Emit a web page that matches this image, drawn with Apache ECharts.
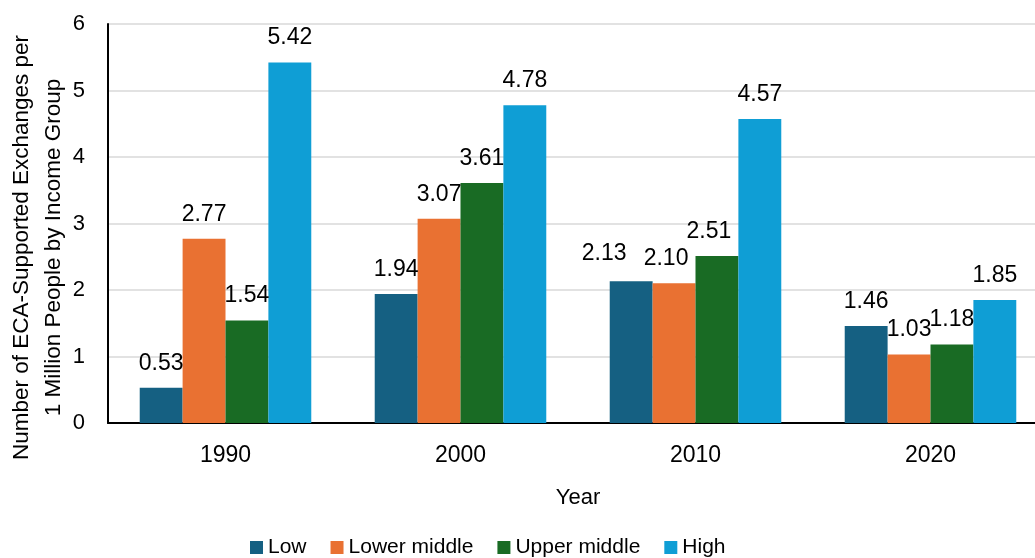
<!DOCTYPE html>
<html>
<head>
<meta charset="utf-8">
<script src="https://cdn.jsdelivr.net/npm/echarts@6/dist/echarts.min.js"></script>
<style>
  html, body { margin: 0; padding: 0; background: #fff; }
  #chart { width: 1035px; height: 558px; }
</style>
</head>
<body>
<div id="chart"></div>
<script>
const years = ['1990', '2000', '2010', '2020'];
const seriesNames = ['Low', 'Lower middle', 'Upper middle', 'High'];
const lowValues = [0.53, 1.94, 2.13, 1.46];
const lowerMiddleValues = [2.77, 3.07, 2.10, 1.03];
const upperMiddleValues = [1.54, 3.61, 2.51, 1.18];
const highValues = [5.42, 4.78, 4.57, 1.85];
const yTicks = [0, 1, 2, 3, 4, 5, 6];

const colors = ['#156082', '#E97132', '#196B24', '#0F9ED5'];
const FONT = '"Liberation Sans", Arial, sans-serif';

const valueSets = [lowValues, lowerMiddleValues, upperMiddleValues, highValues];

// Nudges for the crowded 2010 labels so they do not overlap: [series][category] -> [dx, dy]
const labelNudges = {
  '0-2': [-27, -3],
  '1-2': [-8, 0],
  '2-2': [-8, 0]
};

function buildData(seriesIdx) {
  return valueSets[seriesIdx].map((v, catIdx) => {
    const nudge = labelNudges[seriesIdx + '-' + catIdx];
    return nudge ? { value: v, label: { offset: nudge } } : v;
  });
}

const chart = echarts.init(document.getElementById('chart'), null, { renderer: 'canvas' });

chart.setOption({
  animation: false,
  color: colors,
  textStyle: { fontFamily: FONT },
  grid: { left: 108, right: -13, top: 24, bottom: 135, containLabel: false, outerBoundsMode: 'none' },
  legend: {
    data: seriesNames,
    left: 250,
    top: 537,
    padding: 0,
    itemWidth: 13,
    itemHeight: 13,
    itemGap: 24,
    icon: 'rect',
    textStyle: { fontFamily: FONT, fontSize: 21, color: '#000' }
  },
  xAxis: {
    type: 'category',
    data: years,
    name: 'Year',
    nameLocation: 'middle',
    nameGap: 64,
    nameMoveOverlap: false,
    nameTextStyle: { fontFamily: FONT, fontSize: 22, color: '#000' },
    axisLine: { lineStyle: { color: '#000', width: 2 } },
    axisTick: { show: false },
    axisLabel: { fontFamily: FONT, fontSize: 23, color: '#000', margin: 21 }
  },
  yAxis: {
    type: 'value',
    min: yTicks[0],
    max: yTicks[yTicks.length - 1],
    interval: 1,
    name: 'Number of ECA-Supported Exchanges per\n1 Million People by Income Group',
    nameLocation: 'middle',
    nameGap: 38,
    nameMoveOverlap: false,
    nameTextStyle: { fontFamily: FONT, fontSize: 22.5, color: '#000', lineHeight: 32, padding: [0, 48, 0, 0] },
    axisLine: { show: true, lineStyle: { color: '#000', width: 2 } },
    axisTick: { show: false },
    axisLabel: { fontFamily: FONT, fontSize: 22, color: '#000', margin: 23 },
    splitLine: { lineStyle: { color: '#d9d9d9', width: 1.5 } }
  },
  series: seriesNames.map((name, i) => ({
    name: name,
    type: 'bar',
    data: buildData(i),
    barGap: '0%',
    barCategoryGap: '27%',
    label: {
      show: true,
      position: 'top',
      distance: 13,
      fontFamily: FONT,
      fontSize: 23,
      color: '#000',
      formatter: p => p.value.toFixed(2)
    }
  }))
});
</script>
</body>
</html>
